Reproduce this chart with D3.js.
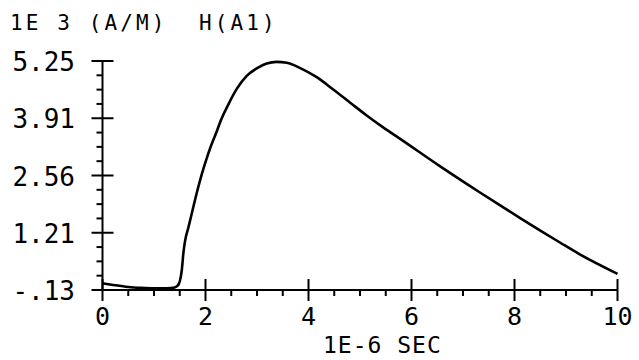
<!DOCTYPE html>
<html>
<head>
<meta charset="utf-8">
<script src="https://cdn.jsdelivr.net/npm/d3@7/dist/d3.min.js"></script>
<style>
  html, body { margin: 0; padding: 0; background: #fff; }
  svg { display: block; }
  text { font-family: "DejaVu Sans Mono", "Liberation Mono", monospace; fill: #000; }
</style>
</head>
<body>
<svg id="chart" width="639" height="360"></svg>
<script>
// Time axis, 1E-6 s
const timeUs = [0, 0.25, 0.5, 0.75, 1.0, 1.25, 1.4, 1.46, 1.5, 1.54, 1.57, 1.6, 1.67, 1.73,
  1.83, 1.93, 2.02, 2.09, 2.22, 2.28, 2.44, 2.61, 2.8, 3.03, 3.19, 3.38, 3.58, 3.83, 4.16,
  4.48, 4.81, 5.13, 5.45, 5.78, 6.55, 7.33, 8.11, 8.89, 9.25, 10];
// Field H(A1), 1E3 A/M
const fieldH = [0.03, -0.02, -0.06, -0.08, -0.09, -0.09, -0.07, -0.03, 0.07, 0.34, 0.73, 1.0,
  1.35, 1.65, 2.15, 2.6, 2.95, 3.2, 3.6, 3.8, 4.22, 4.6, 4.9, 5.1, 5.19, 5.23, 5.21, 5.09,
  4.87, 4.58, 4.27, 3.97, 3.69, 3.42, 2.78, 2.16, 1.56, 0.98, 0.72, 0.25];

const xTicks = [0, 2, 4, 6, 8, 10];
const xTickLabels = ["0", "2", "4", "6", "8", "10"];
const yTicks = [-0.13, 1.215, 2.56, 3.905, 5.25];
const yTickLabels = ["-.13", "1.21", "2.56", "3.91", "5.25"];
const titleText = "1E 3 (A/M)  H(A1)";
const xAxisTitle = "1E-6 SEC";

const svg = d3.select("#chart");

const x = d3.scaleLinear().domain([0, 10]).range([102.5, 617.5]);
const y = d3.scaleLinear().domain([-0.13, 5.25]).range([290, 61]);

const ink = "#000";
const axisW = 2;

// minor tick positions: three between each pair of majors
const xMinor = [];
for (let i = 0; i < xTicks.length - 1; i++) {
  const step = (xTicks[i + 1] - xTicks[i]) / 4;
  for (let k = 1; k < 4; k++) xMinor.push(xTicks[i] + k * step);
}
const yMinor = [];
for (let i = 0; i < yTicks.length - 1; i++) {
  const step = (yTicks[i + 1] - yTicks[i]) / 4;
  for (let k = 1; k < 4; k++) yMinor.push(yTicks[i] + k * step);
}

const g = svg.append("g");

// axis lines
g.append("line")
  .attr("x1", x(0)).attr("x2", x(0))
  .attr("y1", y(5.25)).attr("y2", y(-0.13))
  .attr("stroke", ink).attr("stroke-width", axisW);
g.append("line")
  .attr("x1", x(0)).attr("x2", x(10))
  .attr("y1", y(-0.13)).attr("y2", y(-0.13))
  .attr("stroke", ink).attr("stroke-width", axisW);

// y ticks: majors cross the axis, minors point left
g.selectAll(".ymaj").data(yTicks).join("line")
  .attr("x1", x(0) - 11).attr("x2", x(0) + 11)
  .attr("y1", d => y(d)).attr("y2", d => y(d))
  .attr("stroke", ink).attr("stroke-width", axisW);
g.selectAll(".ymin").data(yMinor).join("line")
  .attr("x1", x(0) - 6).attr("x2", x(0))
  .attr("y1", d => y(d)).attr("y2", d => y(d))
  .attr("stroke", ink).attr("stroke-width", axisW);

// x ticks: majors cross the axis, minors point down
g.selectAll(".xmaj").data(xTicks).join("line")
  .attr("x1", d => x(d)).attr("x2", d => x(d))
  .attr("y1", y(-0.13) - 11).attr("y2", y(-0.13) + 11)
  .attr("stroke", ink).attr("stroke-width", axisW);
g.selectAll(".xmin").data(xMinor).join("line")
  .attr("x1", d => x(d)).attr("x2", d => x(d))
  .attr("y1", y(-0.13)).attr("y2", y(-0.13) + 6)
  .attr("stroke", ink).attr("stroke-width", axisW);

// tick labels
g.selectAll(".ylab").data(yTicks).join("text")
  .attr("x", 75)
  .attr("y", d => y(d) + 10)
  .attr("text-anchor", "end")
  .attr("font-size", 26)
  .text((d, i) => yTickLabels[i]);

g.selectAll(".xlab").data(xTicks).join("text")
  .attr("x", d => x(d))
  .attr("y", 325)
  .attr("text-anchor", "middle")
  .attr("font-size", 25)
  .text((d, i) => xTickLabels[i]);

// titles
svg.append("text")
  .attr("x", 10).attr("y", 30)
  .attr("font-size", 21)
  .attr("letter-spacing", 3.1)
  .attr("xml:space", "preserve")
  .style("white-space", "pre")
  .text(titleText);

svg.append("text")
  .attr("x", 323).attr("y", 353)
  .attr("font-size", 23)
  .attr("letter-spacing", 1)
  .attr("xml:space", "preserve")
  .style("white-space", "pre")
  .text(xAxisTitle);

// the H(A1) trace
const pts = timeUs.map((t, i) => [t, fieldH[i]]);
const line = d3.line()
  .x(d => x(d[0]))
  .y(d => y(d[1]))
  .curve(d3.curveMonotoneX);

svg.append("path")
  .datum(pts)
  .attr("d", line)
  .attr("fill", "none")
  .attr("stroke", ink)
  .attr("stroke-width", 2.6)
  .attr("stroke-linejoin", "round");
</script>
</body>
</html>
